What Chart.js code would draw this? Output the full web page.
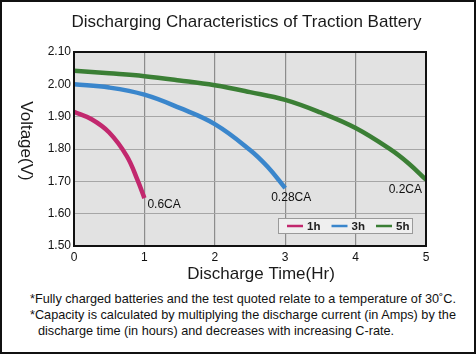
<!DOCTYPE html>
<html>
<head>
<meta charset="utf-8">
<script src="https://cdn.jsdelivr.net/npm/chart.js@4/dist/chart.umd.min.js"></script>
<style>
    body { margin: 0; background: #fff; font-family: "Liberation Sans", Arial, sans-serif; }
    #frame { position: absolute; left: 0; top: 0; width: 476px; height: 354px; box-sizing: border-box; border: 2px solid #111; background: #fff; }
    #chartBox { position: absolute; left: 0; top: 0; width: 472px; height: 288px; }
    #notes { position: absolute; left: 28px; top: 289px; font-size: 12.7px; line-height: 16px; color: #111; }
    #notes .indent { padding-left: 8px; }
</style>
</head>
<body>
<div id="frame">
    <div id="chartBox"><canvas id="batteryChart"></canvas></div>
    <div id="notes">
        <div>*Fully charged batteries and the test quoted relate to a temperature of 30˚C.</div>
        <div>*Capacity is calculated by multiplying the discharge current (in Amps) by the</div>
        <div class="indent">discharge time (in hours) and decreases with increasing C-rate.</div>
    </div>
</div>
<script>
// Datos (horas, voltios)
const time1h = [0, 0.25, 0.5, 0.75, 0.9, 1.0];
const volt1h = [1.915, 1.892, 1.851, 1.778, 1.705, 1.648];

const time3h = [0, 0.5, 1, 1.5, 2, 2.5, 2.75, 3];
const volt3h = [2.00, 1.99, 1.968, 1.927, 1.877, 1.797, 1.745, 1.679];

const time5h = [0, 0.5, 1, 1.5, 2, 2.5, 3, 3.5, 4, 4.5, 4.75, 5];
const volt5h = [2.042, 2.034, 2.025, 2.012, 1.997, 1.976, 1.952, 1.913, 1.865, 1.798, 1.756, 1.705];

const seriesNames = ['1h', '3h', '5h'];
const rateLabels = ['0.6CA', '0.28CA', '0.2CA'];
const xTicks = [0, 1, 2, 3, 4, 5];
const yTicks = [1.50, 1.60, 1.70, 1.80, 1.90, 2.00, 2.10];

const colors = ['#c2286e', '#3a86cc', '#3b7f35'];
const FONT = '"Liberation Sans", Arial, sans-serif';

function toPoints(xs, ys) {
    return xs.map((x, i) => ({ x: x, y: ys[i] }));
}

// Plugin para fondo, bordes, títulos, etiquetas y leyenda
const decorPlugin = {
    id: 'decor',
    beforeDraw(chart) {
        const { ctx, chartArea: a } = chart;
        ctx.save();
        ctx.fillStyle = '#e2e2e2';
        ctx.fillRect(a.left, a.top, a.right - a.left, a.bottom - a.top);
        ctx.restore();
    },
    afterDatasetsDraw(chart) {
        const { ctx, chartArea: a } = chart;
        ctx.save();

        // Borde del área de trazado
        ctx.strokeStyle = '#111';
        ctx.lineWidth = 2;
        ctx.strokeRect(a.left, a.top, a.right - a.left, a.bottom - a.top);

        // Etiquetas de corriente al final de cada curva
        const offsets = [
            { dx: 3, dy: 7, align: 'left' },
            { dx: -14, dy: 10, align: 'left' },
            { dx: -4, dy: 10, align: 'right' }
        ];
        ctx.font = '12px ' + FONT;
        ctx.fillStyle = '#111';
        ctx.textBaseline = 'middle';
        chart.data.datasets.forEach((ds, i) => {
            const last = ds.data[ds.data.length - 1];
            const px = chart.scales.x.getPixelForValue(last.x);
            const py = chart.scales.y.getPixelForValue(last.y);
            ctx.textAlign = offsets[i].align;
            ctx.fillText(rateLabels[i], px + offsets[i].dx, py + offsets[i].dy);
        });

        // Leyenda dentro del área
        const boxW = 135, boxH = 16;
        const bx = a.right - 13 - boxW;
        const by = a.bottom - 12 - boxH;
        ctx.fillStyle = '#efefef';
        ctx.fillRect(bx, by, boxW, boxH);
        ctx.strokeStyle = '#9a9a9a';
        ctx.lineWidth = 1;
        ctx.strokeRect(bx + 0.5, by + 0.5, boxW - 1, boxH - 1);
        ctx.textAlign = 'left';
        ctx.font = 'bold 11.5px ' + FONT;
        seriesNames.forEach((name, i) => {
            const lx = bx + 9 + i * 44.5;
            const ly = by + boxH / 2;
            ctx.strokeStyle = colors[i];
            ctx.lineWidth = 2.5;
            ctx.beginPath();
            ctx.moveTo(lx, ly);
            ctx.lineTo(lx + 16, ly);
            ctx.stroke();
            ctx.fillStyle = '#222';
            ctx.fillText(name, lx + 20, ly + 0.5);
        });
        ctx.restore();
    },
    afterDraw(chart) {
        const { ctx } = chart;
        ctx.save();
        ctx.fillStyle = '#1a1a1a';
        ctx.textAlign = 'center';
        ctx.textBaseline = 'middle';

        ctx.font = '17px ' + FONT;
        ctx.fillText('Discharging Characteristics of Traction Battery', 244.5, 20);

        ctx.fillText('Discharge Time(Hr)', 259, 272);

        // Título del eje Y, girado en sentido horario
        ctx.translate(23.5, 139);
        ctx.rotate(Math.PI / 2);
        ctx.fillText('Voltage(V)', 0, 0);
        ctx.restore();
    }
};

const ctx = document.getElementById('batteryChart').getContext('2d');
const batteryChart = new Chart(ctx, {
    type: 'line',
    data: {
        datasets: [
            { label: seriesNames[0], data: toPoints(time1h, volt1h), borderColor: colors[0] },
            { label: seriesNames[1], data: toPoints(time3h, volt3h), borderColor: colors[1] },
            { label: seriesNames[2], data: toPoints(time5h, volt5h), borderColor: colors[2] }
        ]
    },
    options: {
        responsive: true,
        maintainAspectRatio: false,
        animation: false,
        layout: { padding: { left: 0, top: 50, right: 48, bottom: 24 } },
        elements: {
            line: { borderWidth: 4.5, tension: 0.4, fill: false },
            point: { radius: 0, hoverRadius: 0 }
        },
        plugins: {
            legend: { display: false },
            title: { display: false },
            tooltip: { enabled: false }
        },
        scales: {
            x: {
                type: 'linear',
                min: 0,
                max: 5,
                afterFit(scale) { scale.height = 20; },
                afterBuildTicks(scale) { scale.ticks = xTicks.map(v => ({ value: v })); },
                grid: { color: '#8c8c8c', lineWidth: 1.2, drawTicks: false },
                border: { display: false },
                ticks: { padding: 4, color: '#111', font: { family: FONT, size: 12 }, maxRotation: 0 }
            },
            y: {
                type: 'linear',
                min: 1.5,
                max: 2.1,
                afterFit(scale) { scale.width = 72; },
                afterBuildTicks(scale) { scale.ticks = yTicks.map(v => ({ value: v })); },
                grid: { color: '#a6a6a6', lineWidth: 1, drawTicks: false },
                border: { display: false },
                ticks: {
                    padding: 3,
                    color: '#111',
                    font: { family: FONT, size: 12 },
                    callback: v => Number(v).toFixed(2)
                }
            }
        }
    },
    plugins: [decorPlugin]
});
</script>
</body>
</html>
